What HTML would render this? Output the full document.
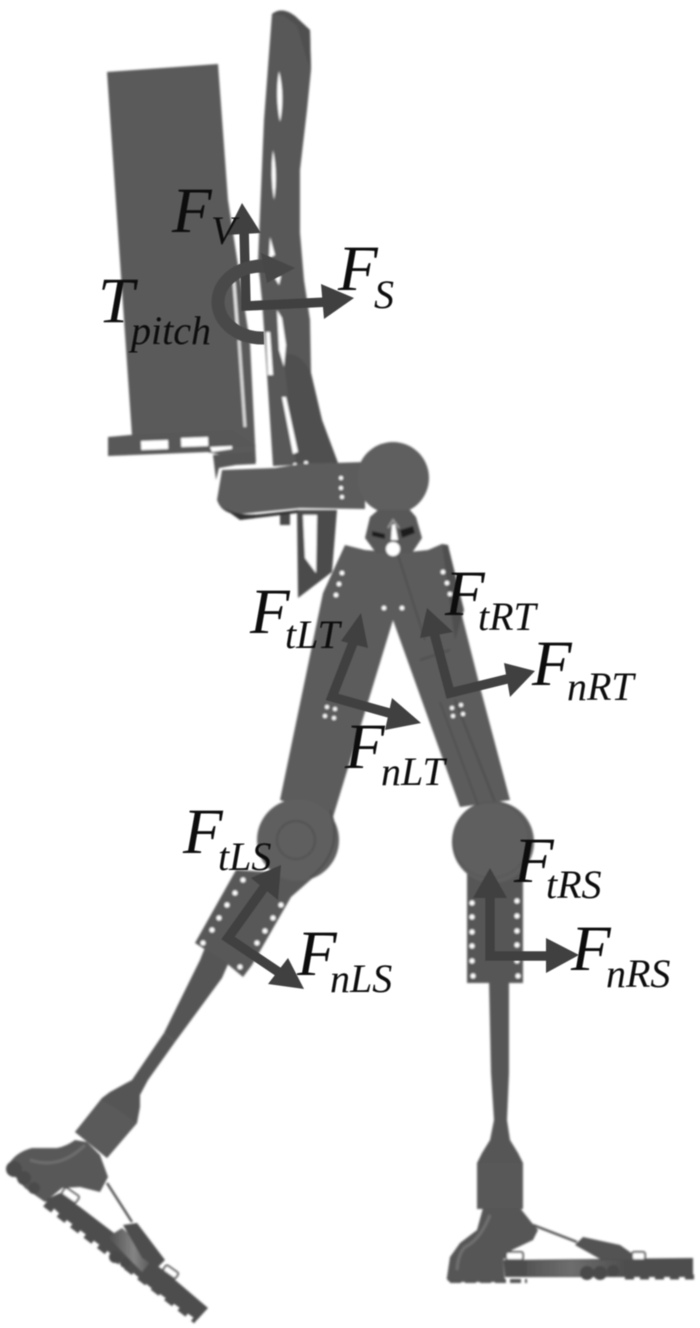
<!DOCTYPE html>
<html><head><meta charset="utf-8"><style>
html,body{margin:0;padding:0;background:#fff}
svg{display:block}
text{font-family:"Liberation Serif",serif;font-style:italic;fill:#0c0c0c}
.F{font-size:65px}.s{font-size:40px}
</style></head><body>
<svg width="700" height="1328" viewBox="0 0 700 1328" xmlns="http://www.w3.org/2000/svg">
<defs>
<filter id="b" x="-5%" y="-5%" width="110%" height="110%"><feGaussianBlur stdDeviation="1"/></filter>
<filter id="t" x="-5%" y="-5%" width="110%" height="110%"><feGaussianBlur stdDeviation="0.5"/></filter>
<linearGradient id="g" x1="0" y1="0" x2="1" y2="0"><stop offset="0" stop-color="#4c4c4c"/><stop offset=".55" stop-color="#858585"/><stop offset="1" stop-color="#4c4c4c"/></linearGradient>
<linearGradient id="g2" x1="0" y1="0" x2="1" y2="0"><stop offset="0" stop-color="#555"/><stop offset=".45" stop-color="#6e6e6e"/><stop offset="1" stop-color="#4e4e4e"/></linearGradient>
</defs>
<rect width="700" height="1328" fill="#fff"/>
<g filter="url(#b)" fill="#5b5b5b">
<!-- battery box -->
<polygon points="107,72 218,64 228,200 250,343 256,462 212,453 132,436" fill="#5a5a5a"/>
<line x1="239" y1="340" x2="245" y2="427" stroke="#d8d8d8" stroke-width="3"/>
<line x1="234" y1="282" x2="238" y2="335" stroke="#e4e4e4" stroke-width="3"/>
<polygon points="108,437 130,435 232,430 256,446 232,447 208,452 108,456" fill="#585858"/>
<rect x="141" y="441" width="27" height="9" fill="#fff" transform="rotate(-2 141 441)"/>
<rect x="181" y="438" width="27" height="9" fill="#fff" transform="rotate(-2 181 438)"/>
<polygon points="210,447 232,446 232,449 212,452" fill="#fff"/>
<!-- spine + rods -->
<path d="M272,14 Q282,6 295,16 L310,30 L311,70 L307,110 L300,170 L300,233 L304,280 L310,320 L311,373 L322,420 L338,463 L273,466 L265,343 L262,300 L258,262 L260,214 L264,120 Z" fill="#585858"/>
<path d="M283,355 Q300,350 311,373 L322,420 L338,463 L296,463 Z" fill="#505050"/>
<path d="M272,14 Q282,6 295,16 L310,30 L311,70 L307,60 L297,26 L284,16 Z" fill="#4f4f4f"/>
<path d="M279,71 Q285,96 280,122 Q275,96 279,71Z" fill="#fff"/>
<path d="M273,150 Q278,175 274,200 Q270,175 273,150Z" fill="#fff"/>
<polygon points="270,237 275,255 269,258" fill="#fff"/>
<polygon points="273,275 281,276 279,285" fill="#fff"/>
<polygon points="254,278 258,278 258,288 255,288" fill="#fff"/>
<polygon points="277,310 282,318 286,345 284,367 279,350" fill="#fff"/>
<polygon points="266,332 270,332 273,375 268,375" fill="#fff"/>
<polygon points="282,397 286,397 298,452 293,454" fill="#fff"/>
<circle cx="295" cy="465" r="2" fill="#fff"/><circle cx="306" cy="463" r="2" fill="#fff"/>
<!-- lower spine piece -->
<polygon points="297,510 337,510 332,572 298,598" fill="#4c4c4c"/>
<polygon points="303,515 317,515 316,573 305,558" fill="#fff"/>
<rect x="280" y="512" width="10" height="13" fill="#4a4a4a"/>
<!-- bracket + hip bar -->
<polygon points="213,455 252,452 256,464 236,465 219,468 216,480" fill="#565656"/>
<path d="M222,470 L275,468 L300,464 L365,462 L365,509 L300,508 L240,514 Q222,515 217,500 Z" fill="#5c5c5c"/>
<path d="M219,505 Q235,517 262,514 L298,510 L298,513 L240,520 Z" fill="#333"/>
<circle cx="393" cy="478" r="36" fill="#5e5e5e"/>
<circle cx="341" cy="478" r="2" fill="#fff"/><circle cx="341" cy="488" r="2" fill="#fff"/><circle cx="342" cy="497" r="2" fill="#fff"/>
<!-- thighs (joined) -->
<polygon points="345,545 365,550 390,552 400,553 428,550 442,544 458,600 480,687 510,800 460,807 393,620 333,817 280,800 323,593" fill="#5c5c5c"/>
<polygon points="442,544 448,545 464,610 455,640" fill="#4f4f4f"/>
<line x1="398" y1="555" x2="425" y2="640" stroke="#4d4d4d" stroke-width="1.5"/>
<line x1="455" y1="700" x2="500" y2="815" stroke="#4f4f4f" stroke-width="2"/>
<line x1="440" y1="702" x2="478" y2="805" stroke="#505050" stroke-width="1.5"/>
<line x1="420" y1="660" x2="450" y2="650" stroke="#505050" stroke-width="2"/>
<!-- hip joint -->
<polygon points="370,517 378,510 410,510 416,517 422,538 412,553 376,553 365,538" fill="#585858"/>
<polygon points="372,531 385,534 385,539 372,536" fill="#1e1e1e"/>
<polygon points="400,530 413,526 415,533 402,538" fill="#1e1e1e"/>
<polygon points="392,525 395,524 398,540 391,540" fill="#fff"/>
<circle cx="393" cy="549" r="7" fill="#fff"/>
<path d="M388,528 L393,520 L399,528" fill="none" stroke="#999" stroke-width="2"/>
<!-- left shin tube first so plate overlaps it -->
<polygon points="208,940 232,955 222,978 175,1042 164,1033 200,960" fill="#555"/>
<!-- knees and shank plates -->
<polygon points="236,870 316,875 291,897 252,965 243,977 225,962 195,943" fill="#585858"/>
<polygon points="467,860 523,860 523,983 467,983" fill="#575757"/>
<circle cx="298" cy="840" r="41" fill="#5f5f5f"/>
<circle cx="296" cy="840" r="19" fill="none" stroke="#525252" stroke-width="2"/>
<path d="M330,810 Q345,850 310,878" fill="none" stroke="#4f4f4f" stroke-width="2"/>
<circle cx="493" cy="842" r="41" fill="#5f5f5f"/>
<circle cx="491" cy="840" r="38" fill="none" stroke="#545454" stroke-width="1.2"/>
<g fill="#fff">
<circle cx="342" cy="573" r="2.3"/><circle cx="339" cy="584" r="2.3"/><circle cx="336" cy="595" r="2.3"/>
<circle cx="384" cy="608" r="2.3"/><circle cx="402" cy="608" r="2.3"/>
<circle cx="443" cy="572" r="2.3"/><circle cx="447" cy="583" r="2.3"/><circle cx="450" cy="594" r="2.3"/>
<circle cx="327" cy="707" r="2"/><circle cx="335" cy="709" r="2"/><circle cx="325" cy="716" r="2"/><circle cx="334" cy="718" r="2"/>
<circle cx="452" cy="708" r="2"/><circle cx="461" cy="705" r="2"/><circle cx="453" cy="716" r="2"/><circle cx="463" cy="714" r="2"/>
<circle cx="243" cy="880" r="2.5"/><circle cx="235" cy="893" r="2.5"/><circle cx="227" cy="905" r="2.5"/><circle cx="219" cy="918" r="2.5"/><circle cx="212" cy="930" r="2.5"/><circle cx="203" cy="943" r="2.5"/>
<circle cx="281" cy="905" r="2.5"/><circle cx="273" cy="918" r="2.5"/><circle cx="265" cy="931" r="2.5"/><circle cx="257" cy="943" r="2.5"/><circle cx="240" cy="967" r="2.5"/>
<circle cx="472" cy="903" r="2.5"/><circle cx="472" cy="917" r="2.5"/><circle cx="472" cy="932" r="2.5"/><circle cx="472" cy="946" r="2.5"/><circle cx="472" cy="961" r="2.5"/><circle cx="473" cy="976" r="2.5"/>
<circle cx="517" cy="901" r="2.5"/><circle cx="517" cy="916" r="2.5"/><circle cx="517" cy="931" r="2.5"/><circle cx="517" cy="945" r="2.5"/><circle cx="517" cy="961" r="2.5"/><circle cx="518" cy="976" r="2.5"/>
</g>
<!-- left shin lower -->
<polygon points="164,1033 175,1042 148,1080 140,1095 140,1107 137,1123 107,1158 75,1132 102,1098 110,1092 132,1080" fill="#545454"/>
<polygon points="102,1100 116,1108 137,1123 107,1158 75,1132" fill="#5a5a5a"/>
<path d="M7,1167 Q15,1152 32,1148 L57,1148 Q67,1146 75,1140 L87,1142 L100,1155 L108,1177 L100,1192 L80,1187 L62,1188 L45,1202 L25,1188 Z" fill="#585858"/>
<path d="M30,1160 Q60,1170 85,1145" fill="none" stroke="#6e6e6e" stroke-width="3"/>
<circle cx="14" cy="1169" r="8" fill="#4c4c4c"/><circle cx="24" cy="1178" r="7" fill="#4c4c4c"/><circle cx="34" cy="1188" r="6" fill="#4c4c4c"/>
<polygon points="45,1200 60,1193 80,1207 127,1243 167,1273 208,1308 197,1320 150,1287 110,1253 63,1217" fill="#4e4e4e"/>
<polygon points="108,1237 122,1228 155,1256 142,1272" fill="url(#g)"/>
<line x1="45" y1="1204" x2="196" y2="1321" stroke="#4e4e4e" stroke-width="6" stroke-dasharray="10 7"/>
<circle cx="115" cy="1257" r="6" fill="#4a4a4a"/><circle cx="125" cy="1263" r="5" fill="#4a4a4a"/>
<rect x="62" y="1191" width="17" height="8" rx="2" fill="#fff" stroke="#555" stroke-width="2" transform="rotate(35 70 1195)"/>
<rect x="163" y="1268" width="15" height="7" rx="2" fill="#fff" stroke="#555" stroke-width="2" transform="rotate(35 170 1272)"/>
<line x1="107" y1="1183" x2="132" y2="1222" stroke="#555" stroke-width="2.5"/>
<polygon points="123,1225 137,1223 165,1260 157,1268 142,1258" fill="#4e4e4e"/>
<!-- right shin -->
<polygon points="489,980 509,980 509,1073 507,1120 510,1140 518,1153 523,1163 523,1208 477,1208 477,1163 482,1153 490,1140 494,1120 491,1073" fill="#565656"/>
<rect x="477" y="1163" width="46" height="46" fill="#595959"/>
<path d="M483,1208 L520,1208 L532,1223 L538,1230 L533,1240 L512,1250 L503,1260 L505,1282 L450,1282 Q446,1280 447,1277 L450,1257 L460,1243 L477,1230 Z" fill="#575757"/>
<path d="M490,1215 Q480,1240 465,1247 Q458,1254 457,1270" fill="none" stroke="#707070" stroke-width="3"/>
<polygon points="503,1260 693,1258 693,1277 505,1277" fill="#4d4d4d"/>
<polygon points="527,1261 625,1260 625,1276 527,1276" fill="url(#g2)"/>
<line x1="450" y1="1281" x2="527" y2="1281" stroke="#555" stroke-width="4" stroke-dasharray="11 4"/>
<line x1="625" y1="1277" x2="695" y2="1277" stroke="#4d4d4d" stroke-width="5" stroke-dasharray="9 6"/>
<circle cx="587" cy="1273" r="7" fill="#4a4a4a"/><circle cx="600" cy="1273" r="7" fill="#4a4a4a"/><circle cx="613" cy="1271" r="6" fill="#4a4a4a"/>
<line x1="533" y1="1225" x2="577" y2="1242" stroke="#555" stroke-width="2.5"/>
<polygon points="575,1245 583,1237 620,1245 630,1252 637,1260 600,1259" fill="#525252"/>
<rect x="506" y="1252" width="17" height="8" rx="2" fill="#fff" stroke="#555" stroke-width="2"/>
<rect x="632" y="1252" width="13" height="8" rx="2" fill="#fff" stroke="#555" stroke-width="2"/>
</g>
<!-- arrows -->
<g filter="url(#t)" fill="#404040">
<polyline points="244,228 246,306 328,302" fill="none" stroke="#404040" stroke-width="9.5"/>
<polygon points="242,203 226,235 261,233"/>
<polygon points="354,298 321,284 324,319"/>
<path d="M264,338 A44,36 0 0 1 218,302 A44,36 0 0 1 262,266 L272,267" fill="none" stroke="#484848" stroke-width="13"/>
<polygon points="295,268 261,253 267,283" fill="#464646"/>
<polyline points="358,630 332,697 400,716" fill="none" stroke="#404040" stroke-width="9.5"/>
<polygon points="361,613 341,641 368,648"/><polygon points="421,723 392,698 385,730"/>
<polyline points="432,625 450,693 515,677" fill="none" stroke="#404040" stroke-width="9.5"/>
<polygon points="427,608 420,638 453,632"/><polygon points="535,671 504,663 510,697"/>
<polyline points="268,882 228,938 283,975" fill="none" stroke="#404040" stroke-width="9.5"/>
<polygon points="281,865 251,878 278,900"/><polygon points="304,989 268,984 288,958"/>
<polyline points="490,890 490,956 555,956" fill="none" stroke="#404040" stroke-width="9.5"/>
<polygon points="490,868 473,898 507,898"/><polygon points="579,955 546,938 546,973"/>
</g>
<!-- labels -->
<g filter="url(#t)">
<text class="F" x="172" y="232">F</text><text class="s" x="211" y="244">V</text>
<text class="F" x="98" y="322">T</text><text class="s" x="131" y="344">pitch</text>
<text class="F" x="338" y="290">F</text><text class="s" x="374" y="308">S</text>
<text class="F" x="250" y="633">F</text><text class="s" x="285" y="648">tLT</text>
<text class="F" x="445" y="615">F</text><text class="s" x="478" y="630">tRT</text>
<text class="F" x="532" y="685">F</text><text class="s" x="567" y="700">nRT</text>
<text class="F" x="345" y="768">F</text><text class="s" x="381" y="785">nLT</text>
<text class="F" x="183" y="853">F</text><text class="s" x="218" y="870">tLS</text>
<text class="F" x="297" y="975">F</text><text class="s" x="330" y="992">nLS</text>
<text class="F" x="514" y="882">F</text><text class="s" x="546" y="898">tRS</text>
<text class="F" x="571" y="970">F</text><text class="s" x="606" y="987">nRS</text>
</g>
</svg>
</body></html>
